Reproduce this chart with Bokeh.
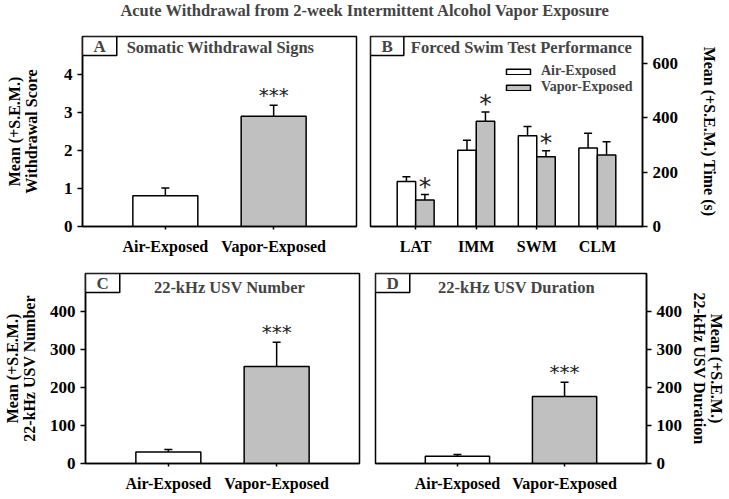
from bokeh.plotting import figure
from bokeh.models import (ColumnDataSource, FactorRange, Range1d, FixedTicker,
                          Whisker, TeeHead, Label)
from bokeh.transform import dodge
from bokeh.layouts import column, row
from bokeh.core.properties import value
from bokeh.embed import file_html
from bokeh.resources import INLINE

# ---------------- data ----------------
main_title = "Acute Withdrawal from 2-week Intermittent Alcohol Vapor Exposure"

groups = ["Air-Exposed", "Vapor-Exposed"]

somatic_mean = [0.81, 2.90]
somatic_sem = [0.20, 0.29]
somatic_sig = ["", "***"]

fst_measures = ["LAT", "IMM", "SWM", "CLM"]
fst_air_mean = [166, 281, 334, 289]
fst_air_sem = [17, 37, 34, 55]
fst_vapor_mean = [98, 388, 257, 263]
fst_vapor_sem = [20, 34, 22, 49]
fst_vapor_sig = ["*", "*", "*", ""]

usv_num_mean = [30, 255]
usv_num_sem = [7, 64]
usv_num_sig = ["", "***"]

usv_dur_mean = [19, 176]
usv_dur_sem = [5, 38]
usv_dur_sig = ["", "***"]

# ---------------- style ----------------
FONT = "Liberation Serif"
GRAY = "#c0c0c0"
bar_colors = ["white", GRAY]
FRAME_W = 274
FRAME_H = 190


def base_fig(x_range, y_end, y_ticks, side, ml, mr, mt, mb, fw):
    p = figure(x_range=x_range, y_range=Range1d(0, y_end), frame_width=fw,
               frame_height=FRAME_H, min_border_left=ml, min_border_right=mr,
               min_border_top=mt, min_border_bottom=mb, y_axis_location=side,
               toolbar_location=None, output_backend="svg", tools="")
    p.xgrid.visible = False
    p.ygrid.visible = False
    p.background_fill_color = "white"
    p.border_fill_color = "white"
    p.outline_line_color = "black"
    p.outline_line_width = 1.5
    p.outline_line_alpha = 1
    p.yaxis.ticker = FixedTicker(ticks=y_ticks)
    for ax in p.xaxis + p.yaxis:
        ax.axis_line_color = "black"
        ax.axis_line_width = 1.5
        ax.major_tick_line_color = "black"
        ax.major_tick_line_width = 1.5
        ax.major_tick_in = 0
        ax.minor_tick_line_color = None
        ax.major_label_text_font = FONT
        ax.major_label_text_font_style = "bold"
        ax.major_label_text_font_size = "16px"
        ax.major_label_text_color = "black"
        ax.axis_label_text_font = FONT
        ax.axis_label_text_font_style = "bold"
        ax.axis_label_text_font_size = "16px"
        ax.axis_label_text_color = "black"
        ax.axis_label_text_line_height = 1.0
    p.xaxis.major_tick_out = 3
    p.xaxis.major_label_standoff = 8
    p.yaxis.major_tick_out = 5
    p.yaxis.major_label_standoff = 5
    p.yaxis.major_label_text_font_size = "17px"
    return p


def decorate(p, letter, title, title_cx, title_base):
    p.add_layout(Label(x=0, y=FRAME_H, x_units="screen", y_units="screen",
                       text=letter, text_font=FONT, text_font_style="bold",
                       text_font_size="17px", text_baseline="top",
                       text_align="left", border_line_color="black",
                       border_line_width=1.5, background_fill_color="white",
                       padding=(11, 0)))
    p.add_layout(Label(x=title_cx, y=FRAME_H - title_base, x_units="screen",
                       y_units="screen", text=title, text_font=FONT,
                       text_font_style="bold", text_font_size="16.5px",
                       text_align="center", text_baseline="alphabetic"))


def two_group_panel(means, sems, sig, y_end, y_ticks, side, ylabel, standoff,
                    letter, title, title_cx, title_base, ml, mr, mt, mb, fw):
    xr = FactorRange(*groups, range_padding=0.265, range_padding_units="absolute")
    p = base_fig(xr, y_end, y_ticks, side, ml, mr, mt, mb, fw)
    src = ColumnDataSource(dict(
        g=groups, m=means, s=sems,
        top=[a + b for a, b in zip(means, sems)],
        sig=sig, color=bar_colors))
    p.vbar(x="g", top="m", bottom=0, width=0.6, source=src, fill_color="color",
           line_color="black", line_width=1.5)
    p.add_layout(Whisker(base="g", lower="m", upper="top", source=src,
                         line_color="black", line_width=1.5,
                         upper_head=TeeHead(size=8, line_color="black", line_width=1.5),
                         lower_head=None))
    p.text(x="g", y="top", text="sig", source=src, text_font=value("DejaVu Sans"),
           text_font_size="20px", text_align="center", y_offset=-10,
           text_baseline="alphabetic", text_color="#222222")
    p.yaxis.axis_label = ylabel
    p.yaxis.axis_label_standoff = standoff
    decorate(p, letter, title, title_cx, title_base)
    return p


# Panel A
pA = two_group_panel(somatic_mean, somatic_sem, somatic_sig, 5, [0, 1, 2, 3, 4],
                     "left", "Mean (+S.E.M.)\nWithdrawal Score", 21,
                     "A", "Somatic Withdrawal Signs", 138, 11,
                     82, 7, 2, 37, FRAME_W)

# Panel B
xrB = FactorRange(*fst_measures, range_padding=0.246, range_padding_units="absolute")
pB = base_fig(xrB, 700, [0, 200, 400, 600], "right", 7, 80, 2, 37, 272)
srcB = ColumnDataSource(dict(
    meas=fst_measures,
    am=fst_air_mean, asem=fst_air_sem,
    atop=[a + b for a, b in zip(fst_air_mean, fst_air_sem)],
    vm=fst_vapor_mean, vsem=fst_vapor_sem,
    vtop=[a + b for a, b in zip(fst_vapor_mean, fst_vapor_sem)],
    sig=fst_vapor_sig))
off = 0.1525
pB.vbar(x=dodge("meas", -off, range=xrB), top="am", bottom=0, width=0.305,
        source=srcB, fill_color="white", line_color="black", line_width=1.5,
        legend_label="Air-Exposed")
pB.vbar(x=dodge("meas", off, range=xrB), top="vm", bottom=0, width=0.305,
        source=srcB, fill_color=GRAY, line_color="black", line_width=1.5,
        legend_label="Vapor-Exposed")
for sh, lo, up in [(-off, "am", "atop"), (off, "vm", "vtop")]:
    pB.add_layout(Whisker(base=dodge("meas", sh, range=xrB), lower=lo, upper=up,
                          source=srcB, line_color="black", line_width=1.5,
                          upper_head=TeeHead(size=8, line_color="black", line_width=1.5),
                          lower_head=None))
pB.text(x=dodge("meas", off, range=xrB), y="vtop", text="sig", source=srcB,
        text_font=value("DejaVu Sans"), text_font_size="25px", text_align="center",
        y_offset=-8, text_baseline="alphabetic", text_color="#222222")
pB.yaxis.axis_label = "Mean (+S.E.M.) Time (s)"
pB.yaxis.axis_label_standoff = 20
leg = pB.legend[0]
leg.location = (133, 131)
leg.margin = 0
leg.padding = 0
leg.spacing = 0
leg.border_line_color = None
leg.background_fill_alpha = 0
leg.glyph_width = 30
leg.glyph_height = 7
leg.label_height = 16
leg.label_standoff = 8
leg.label_text_font = FONT
leg.label_text_font_style = "bold"
leg.label_text_font_size = "14px"
decorate(pB, "B", "Forced Swim Test Performance", 151, 11)

# Panel C
pC = two_group_panel(usv_num_mean, usv_num_sem, usv_num_sig, 500, [0, 100, 200, 300, 400],
                     "left", "Mean (+S.E.M.)\n22-kHz USV Number", 9,
                     "C", "22-kHz USV Number", 144, 14,
                     82, 7, 10, 28, FRAME_W)

# Panel D
pD = two_group_panel(usv_dur_mean, usv_dur_sem, usv_dur_sig, 500, [0, 100, 200, 300, 400],
                     "right", "Mean (+S.E.M.)\n22-kHz USV Duration", 6,
                     "D", "22-kHz USV Duration", 141, 14,
                     9, 80, 10, 28, 271)

# Title
TITLE_H = 34
pT = figure(width=722, height=TITLE_H, toolbar_location=None, output_backend="svg",
            min_border=0, x_range=(0, 1), y_range=(0, 1), tools="")
pT.axis.visible = False
pT.grid.visible = False
pT.outline_line_color = None
pT.add_layout(Label(x=365, y=TITLE_H - 10, x_units="screen", y_units="screen",
                    text=main_title, text_font=FONT, text_font_style="bold",
                    text_font_size="16.5px", text_align="center",
                    text_baseline="alphabetic"))

layout = column(pT, row(pA, pB), row(pC, pD))
open("out.html", "w").write(file_html(layout, INLINE))
